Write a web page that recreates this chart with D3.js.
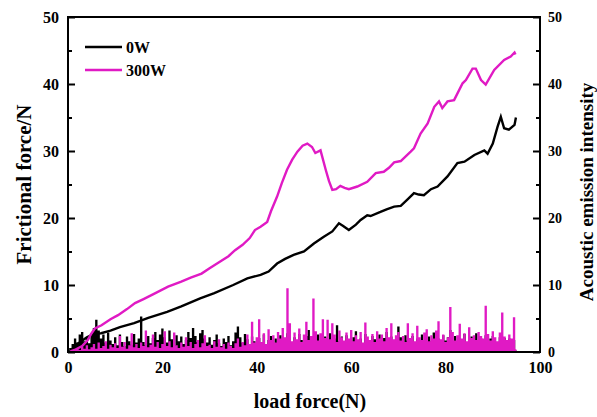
<!DOCTYPE html>
<html>
<head>
<meta charset="utf-8">
<script src="https://cdn.jsdelivr.net/npm/d3@7"></script>
<style>
  body { margin: 0; background: #fff; }
  svg text { font-family: "Liberation Serif", "Times New Roman", serif; font-weight: bold; }
</style>
</head>
<body>
<div id="viz"><svg width="597" height="417"></svg></div>
<script>
// smooth friction curves
const load0W = [0.6,2,4,5.5,7,9,11,14,17,21,24,28,31,35,38,40.8,42.5,44.3,46,47.8,50,52.1,54.2,56,57.4,58.3,59.5,61,62,63.4,64.1,66.2,67.5,69.1,70.5,72,73.3,74.3,75.4,76.9,78.3,80.4,82.5,84,86.1,88.2,88.9,90,91,91.7,92.4,93.4,94.6,94.9]
const force0W = [0.2,1.2,2.2,2.7,2.8,3.2,3.7,4.3,5.1,6.0,6.8,8.0,8.8,10.0,11.0,11.5,12.0,13.2,13.9,14.5,15.0,16.2,17.2,18.0,19.2,18.8,18.2,19.0,19.7,20.4,20.3,20.9,21.3,21.7,21.8,22.8,23.7,23.5,23.4,24.3,24.7,26.2,28.2,28.4,29.4,30.1,29.6,31.1,33.6,35.1,33.4,33.2,33.9,35.0]

const load300W = [0.5,1.4,3,4.2,5,5.7,7.1,9,10.6,12.5,14.2,16,18,21.2,24,26,28.3,30,32,34,35.4,37,38.5,39.6,40.8,42.2,43,44.3,45.3,46.4,47.5,48.6,49.7,50.7,51.7,52.4,53.5,54.6,55.3,56,56.8,57.7,58.6,59.5,61.3,63.4,65.2,66.9,68,69.1,70.5,72.6,73.3,74.7,76.2,77.6,78.6,79.3,80.4,81.8,83.6,84.3,85.7,86.4,87.5,88.5,90.3,92.4,93.8,94.6,94.8]
const force300W = [0.1,0.3,0.9,1.8,2.8,3.5,4.0,4.9,5.5,6.4,7.3,7.9,8.6,9.75,10.5,11.1,11.7,12.5,13.4,14.3,15.2,16.0,17.0,18.2,18.7,19.4,21.0,23.2,25.2,27.2,28.7,29.9,30.8,31.1,30.6,29.7,30.1,27.2,25.5,24.2,24.3,24.8,24.5,24.3,24.7,25.4,26.7,26.9,27.5,28.3,28.5,29.9,30.4,32.6,34.1,36.6,37.4,36.4,37.4,37.6,40.1,40.6,42.3,42.3,40.6,39.9,42.1,43.6,44.1,44.7,44.4]

// acoustic emission, one value every 0.5 N from 0 to 95
const ae0W = [
  0.2,0.6,1.2,2.0,1.4,2.6,3.0,1.6,2.2,1.3,
  2.8,3.6,4.8,3.2,2.0,2.6,1.4,2.9,1.7,1.2,
  2.2,1.0,2.6,1.5,0.9,2.3,1.6,1.1,2.7,1.4,
  2.0,5.3,1.5,1.0,2.4,1.3,2.1,3.0,1.8,2.6,
  3.5,2.2,1.4,3.2,1.9,1.0,2.5,1.6,2.3,1.2,
  1.8,3.0,2.1,3.6,2.4,1.5,2.8,3.3,2.0,1.4,
  2.2,1.1,1.8,2.6,1.3,0.9,2.0,1.5,2.4,1.0,
  1.6,2.9,3.8,2.2,1.4,2.7,1.9,1.2,2.3,1.6,
  1.0,2.1,1.5,2.6,1.2,1.8,2.4,1.1,2.0,1.4,
  2.5,1.3,1.9,2.8,1.6,1.0,2.2,1.5,2.7,1.8,
  1.2,2.4,3.3,1.7,2.1,1.0,2.6,1.4,1.9,2.3,
  1.5,2.8,1.2,2.0,4.0,1.6,2.3,1.1,2.5,1.8,
  1.3,2.2,3.1,1.5,2.0,1.2,2.7,1.7,1.1,2.4,
  1.9,1.4,2.6,1.2,2.1,3.0,1.6,2.3,1.0,1.8,
  3.8,2.2,1.4,2.5,1.7,1.1,2.4,1.5,2.0,1.3,
  2.6,1.8,1.2,2.3,1.6,2.9,1.4,2.0,1.1,2.5,
  1.7,2.2,3.3,1.5,2.4,1.2,2.0,1.6,2.7,1.3,
  1.9,2.3,1.4,2.8,1.1,2.1,1.6,2.5,1.3,2.0,
  2.4,1.5,1.2,2.2,1.7,2.1,1.4,2.0,1.6,1.8,
  0.3]
const ae300W = [
  0,0,0.2,0.4,0.6,0.3,0.8,0.5,1.0,0.4,
  0.7,1.2,0.5,1.4,0.6,0.9,1.6,0.5,1.1,0.7,
  1.3,0.6,2.4,0.8,1.5,0.5,1.0,2.8,0.7,1.2,
  0.6,1.4,0.9,3.2,0.7,1.1,2.6,0.8,1.5,0.6,
  1.2,3.1,0.9,1.6,0.7,2.9,1.0,0.6,1.4,0.8,
  2.2,0.9,1.5,0.6,1.2,1.8,0.7,1.3,2.5,0.9,
  1.1,0.6,1.6,0.8,1.9,0.7,1.2,0.5,1.4,0.9,
  0.6,1.3,2.0,0.8,1.5,1.0,2.6,1.2,4.5,1.4,
  2.2,4.9,1.5,2.8,1.2,3.4,1.8,2.5,1.4,3.0,
  2.0,3.6,2.2,9.5,4.3,1.6,2.9,1.9,3.5,1.5,
  2.6,4.5,1.8,2.4,8.0,3.1,1.7,2.8,4.9,2.1,
  4.8,1.9,4.3,2.6,1.5,3.2,2.2,1.7,2.9,2.0,
  3.3,1.6,2.5,1.9,3.0,1.4,4.4,2.3,1.8,2.7,
  1.5,3.1,2.0,2.6,1.6,3.6,2.2,4.3,1.9,2.5,
  3.0,1.7,2.4,1.5,4.3,2.1,2.8,1.6,3.9,2.2,
  1.8,2.9,3.4,1.6,2.5,2.0,3.2,4.6,1.9,2.6,
  1.5,2.2,6.7,3.0,1.7,2.5,4.2,2.0,2.8,1.6,
  3.7,2.1,2.5,1.8,3.0,2.4,2.0,6.9,2.7,1.7,
  3.1,2.2,1.6,2.9,5.9,2.3,1.8,2.6,2.0,5.2,
  0.4]

const majorTicks = [0,10,20,30,40,50]
const minorTicks = [5,15,25,35,45]
const xTicks = [0,20,40,60,80,100]

const svg = d3.select("#viz").select("svg")
const margin = {left: 68, right: 57, top: 17, bottom: 65}
const W = 597, H = 417

const x = d3.scaleLinear().domain([0,100]).range([margin.left, W - margin.right])
const y = d3.scaleLinear().domain([0,50]).range([H - margin.bottom, margin.top])

// acoustic emission spikes, drawn as narrow bars via a step area
const area = d3.area()
  .curve(d3.curveStep)
  .x((d,i) => x(i * 0.5))
  .y0(y(0))
  .y1(d => y(d))

svg.append("path").attr("d", area(ae0W)).attr("fill", "#000")
svg.append("path").attr("d", area(ae300W)).attr("fill", "#e01ac4")

const line = d3.line().x(d => x(d[0])).y(d => y(d[1]))

svg.append("path")
  .attr("d", line(d3.zip(load0W, force0W)))
  .attr("fill", "none").attr("stroke", "#000").attr("stroke-width", 2.4)
svg.append("path")
  .attr("d", line(d3.zip(load300W, force300W)))
  .attr("fill", "none").attr("stroke", "#e01ac4").attr("stroke-width", 2.4)

// frame
svg.append("rect")
  .attr("x", x(0)).attr("y", y(50))
  .attr("width", x(100) - x(0)).attr("height", y(0) - y(50))
  .attr("fill", "none").attr("stroke", "#000").attr("stroke-width", 2)

function styleAxis(g){
  g.select(".domain").remove()
  g.selectAll("line").attr("stroke", "#000").attr("stroke-width", 2)
}

svg.append("g")
  .attr("transform", "translate(" + x(0) + ",0)")
  .call(d3.axisLeft(y).tickValues(majorTicks).tickSize(-7).tickPadding(9))
  .call(styleAxis)
  .selectAll("text").attr("font-size", 16).attr("fill", "#000")
svg.append("g")
  .attr("transform", "translate(" + x(0) + ",0)")
  .call(d3.axisLeft(y).tickValues(minorTicks).tickSize(-4).tickFormat(""))
  .call(styleAxis)

svg.append("g")
  .attr("transform", "translate(" + x(100) + ",0)")
  .call(d3.axisRight(y).tickValues(majorTicks).tickSize(-7).tickPadding(8))
  .call(styleAxis)
  .selectAll("text").attr("font-size", 14).attr("fill", "#000")
svg.append("g")
  .attr("transform", "translate(" + x(100) + ",0)")
  .call(d3.axisRight(y).tickValues(minorTicks).tickSize(-4).tickFormat(""))
  .call(styleAxis)

svg.append("g")
  .attr("transform", "translate(0," + y(0) + ")")
  .call(d3.axisBottom(x).tickValues(xTicks).tickSize(0).tickPadding(10))
  .call(styleAxis)
  .selectAll("text").attr("font-size", 16).attr("fill", "#000")

// titles
svg.append("text")
  .attr("transform", "translate(31," + (margin.top + (H - margin.top - margin.bottom) / 2) + ") rotate(-90)")
  .attr("text-anchor", "middle")
  .attr("font-size", 21)
  .text("Frictional force/N")

svg.append("text")
  .attr("transform", "translate(593,192) rotate(-90)")
  .attr("text-anchor", "middle")
  .attr("font-size", 19)
  .text("Acoustic emission intensity")

svg.append("text")
  .attr("x", 310).attr("y", 408)
  .attr("text-anchor", "middle")
  .attr("font-size", 20)
  .text("load force(N)")

// legend
const legend = [["0W", "#000"], ["300W", "#e01ac4"]]
const lg = svg.append("g").selectAll("g")
  .data(legend)
  .enter()
  .append("g")
  .attr("transform", (d,i) => "translate(85," + (47 + i * 23) + ")")
lg.append("line").attr("x1", 0).attr("x2", 37)
  .attr("stroke", d => d[1]).attr("stroke-width", 2.4)
lg.append("text").attr("x", 41).attr("y", 6)
  .attr("font-size", 16).text(d => d[0])
</script>
</body>
</html>
